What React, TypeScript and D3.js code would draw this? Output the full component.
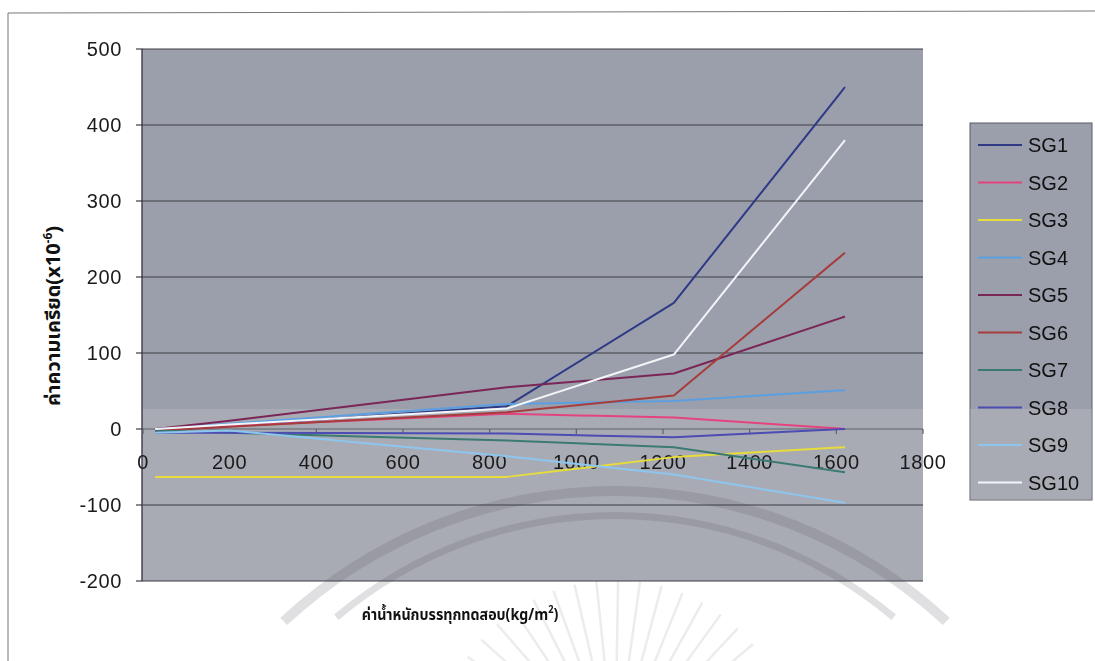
import React from "react";
import * as d3 from "d3";

const loads = [28, 200, 840, 1225, 1620];
const seriesNames = ["SG1", "SG2", "SG3", "SG4", "SG5", "SG6", "SG7", "SG8", "SG9", "SG10"];
const sg1 = [-3, 4, 30, 166, 450];
const sg2 = [0, 4, 20, 15, 0];
const sg3 = [-63, -63, -63, -37, -24];
const sg4 = [0, 7, 33, 37, 51];
const sg5 = [0, 11, 55, 73, 148];
const sg6 = [-2, 3, 22, 44, 232];
const sg7 = [-2, -5, -15, -24, -57];
const sg8 = [-5, -5, -6, -11, 0];
const sg9 = [-5, -2, -36, -60, -97];
const sg10 = [0, 6, 27, 98, 380];
const seriesValues = [sg1, sg2, sg3, sg4, sg5, sg6, sg7, sg8, sg9, sg10];
const seriesColors = [
  "#2e3a86", "#e4437f", "#e6dc3c", "#5c9fe0", "#7a2656",
  "#a53d3c", "#3b7a72", "#4c4cb2", "#8cc6ee", "#f2f5f8",
];
const xTicks = [0, 200, 400, 600, 800, 1000, 1200, 1400, 1600, 1800];
const yTicks = [-200, -100, 0, 100, 200, 300, 400, 500];
const xTitle = "ค่าน้ำหนักบรรทุกทดสอบ(kg/m";
const yTitle = "ค่าความเครียด(x10";

export default function App() {
  const W = 1095, H = 661;
  const x = d3.scaleLinear().domain([0, 1800]).range([143, 923]);
  const y = d3.scaleLinear().domain([-200, 500]).range([581, 49]);
  const line = d3.line<number>().x((_, i) => x(loads[i])).y((v) => y(v));
  const font = "Liberation Sans, Arial, sans-serif";
  const thai = "'Noto Sans Thai', 'Noto Sans', 'DejaVu Sans', Loma, Garuda, sans-serif";
  const bandY = 409;
  const legX = 970, legY = 123, legW = 122, legH = 377;
  const arc = d3.arc();
  const outerArc = arc({ innerRadius: 481, outerRadius: 491, startAngle: -0.75, endAngle: 0.75 }) || "";
  const innerArc = arc({ innerRadius: 429, outerRadius: 436, startAngle: -0.7, endAngle: 0.7 }) || "";
  const rays = d3.range(-62, 63, 7).map((deg) => (deg * Math.PI) / 180);
  return (
    <svg width={W} height={H} style={{ position: "absolute", left: 0, top: 0, background: "#fff" }}>
      <rect x={0} y={0} width={W} height={H} fill="#ffffff" />
      {/* outer frame */}
      <line x1={8} y1={13} x2={W} y2={11} stroke="#777" strokeWidth={1} />
      <line x1={8} y1={13} x2={8} y2={H} stroke="#777" strokeWidth={1} />
      {/* plot background */}
      <rect x={x(0) - 1} y={y(500)} width={x(1800) - x(0) + 1} height={y(-200) - y(500)} fill="#9b9eab" />
      <rect x={x(0) - 1} y={bandY} width={x(1800) - x(0) + 1} height={y(-200) - bandY} fill="#a9abb4" />
      {/* watermark seal */}
      <g opacity={0.18} fill="#50525c" stroke="none">
        <path d={outerArc} transform="translate(615, 977)" />
        <path d={innerArc} transform="translate(615, 948)" />
        {rays.map((a, i) => (
          <line key={i} x1={615 + Math.sin(a) * 95} y1={760 - Math.cos(a) * 95} x2={615 + Math.sin(a) * 180} y2={760 - Math.cos(a) * 180}
            stroke="#50525c" strokeWidth={2.5} opacity={0.6} />
        ))}
      </g>
      {/* gridlines */}
      {yTicks.map((t) => (
        <g key={t}>
          {t !== 0 && <line x1={x(0)} x2={x(1800)} y1={y(t)} y2={y(t)} stroke="#3c3d44" strokeWidth={1.2} />}
          <line x1={x(0) - 7} x2={x(0)} y1={y(t)} y2={y(t)} stroke="#3c3d44" strokeWidth={1.2} />
          <text x={122} y={y(t)} dy="0.36em" textAnchor="end" fontFamily={font} fontSize={20} letterSpacing={0.6} fill="#1a1a1a">{t}</text>
        </g>
      ))}
      {/* left axis */}
      <line x1={x(0) - 1} x2={x(0) - 1} y1={y(500)} y2={y(-200)} stroke="#3c3d44" strokeWidth={1.4} />
      {/* x axis at zero */}
      <line x1={x(0)} x2={x(1800)} y1={y(0)} y2={y(0)} stroke="#5e606a" strokeWidth={1.2} />
      {xTicks.map((t) => (
        <g key={t}>
          <line x1={x(t)} x2={x(t)} y1={y(0)} y2={y(0) + 5} stroke="#5e606a" strokeWidth={1.2} />
          <text x={x(t)} y={469} textAnchor="middle" fontFamily={font} fontSize={20} letterSpacing={0.6} fill="#1a1a1a">{t}</text>
        </g>
      ))}
      {/* series */}
      {seriesValues.map((vals, i) => (
        <path key={seriesNames[i]} d={line(vals) || ""} fill="none" stroke={seriesColors[i]} strokeWidth={2} strokeLinejoin="round" />
      ))}
      {/* legend */}
      <rect x={legX} y={legY} width={legW} height={legH} fill="#9b9eab" stroke="#5a5c64" strokeWidth={1} />
      <rect x={legX + 0.5} y={bandY} width={legW - 1} height={legY + legH - bandY - 0.5} fill="#a9abb4" />
      {seriesNames.map((n, i) => {
        const ly = 145 + i * 37.5;
        return (
          <g key={n}>
            <line x1={978} x2={1022} y1={ly} y2={ly} stroke={seriesColors[i]} strokeWidth={2} />
            <text x={1028} y={ly} dy="0.36em" fontFamily={font} fontSize={20} fill="#111">{n}</text>
          </g>
        );
      })}
      {/* axis titles */}
      <g transform="translate(460, 620) scale(0.92, 1)">
        <text x={0} y={0} textAnchor="middle" fontFamily={thai} fontWeight="bold" fontSize={15.5} fill="#111">
          {xTitle}<tspan fontSize={10} dy={-7}>2</tspan><tspan dy={7}>)</tspan>
        </text>
      </g>
      <text transform={`translate(60, ${316}) rotate(-90)`} textAnchor="middle" fontFamily={thai} fontWeight="bold" fontSize={20} fill="#111">
        {yTitle}<tspan fontSize={12} dy={-8}>-6</tspan><tspan dy={8}>)</tspan>
      </text>
    </svg>
  );
}
